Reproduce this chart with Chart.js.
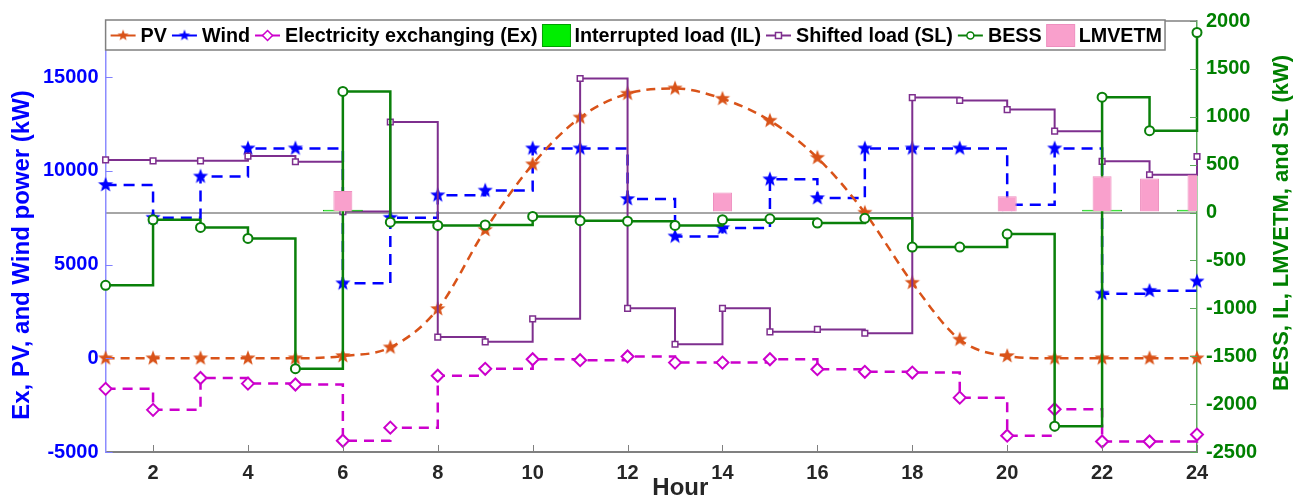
<!DOCTYPE html>
<html>
<head>
<meta charset="utf-8">
<script src="https://cdn.jsdelivr.net/npm/chart.js@4.4.0/dist/chart.umd.min.js"></script>
<style>
  html, body { margin: 0; padding: 0; background: #fff; }
</style>
</head>
<body>
<canvas id="myChart" width="1310" height="502"></canvas>
<script>
// hours on the x axis
const hours = [1, 2, 3, 4, 5, 6, 7, 8, 9, 10, 11, 12, 13, 14, 15, 16, 17, 18, 19, 20, 21, 22, 23, 24];
const xTicks = [2, 4, 6, 8, 10, 12, 14, 16, 18, 20, 22, 24];
const leftTicks = [-5000, 0, 5000, 10000, 15000];
const rightTicks = [-2500, -2000, -1500, -1000, -500, 0, 500, 1000, 1500, 2000];

// left axis series (kW)
const pv = [0, 0, 0, 0, 0, 120, 580, 2630, 6850, 10350, 12850, 14120, 14400, 13850, 12680, 10700, 7770, 4030, 1000, 120, 0, 0, 0, 0];
const wind = [9250, 7500, 9700, 11200, 11200, 4000, 7500, 8700, 8950, 11200, 11200, 8500, 6500, 6950, 9550, 8550, 11200, 11200, 11200, 8200, 11200, 3450, 3600, 4100];
const ex = [-1630, -2750, -1050, -1350, -1400, -4400, -3700, -930, -560, -50, -100, 100, -230, -230, -50, -580, -720, -760, -2100, -4130, -2720, -4440, -4440, -4070];

// right axis series (kW)
const il = [null, null, null, null, null, 30, null, null, null, null, null, null, null, null, null, null, null, null, null, null, null, 30, null, 30];
const sl = [550, 540, 540, 590, 530, 10, 945, -1300, -1350, -1110, 1400, -1000, -1375, -1000, -1245, -1220, -1260, 1200, 1170, 1075, 850, 535, 395, 585];
const bess = [-760, -75, -155, -270, -1630, 1265, -100, -135, -130, -40, -85, -90, -135, -75, -65, -110, -60, -360, -360, -225, -2230, 1205, 855, 1880];
const lmvetm = [null, null, null, null, null, 225, null, null, null, null, null, null, null, 210, null, null, null, null, null, 170, null, 380, 355, 395];

const FONT = '"Liberation Sans", Arial, sans-serif';

function pairs(values) {
    return hours.map((h, i) => ({x: h, y: values[i]}));
}

function makeStar(color, r) {
    const c = document.createElement('canvas');
    c.width = c.height = r * 2 + 2;
    const g = c.getContext('2d');
    g.translate(r + 1, r + 1);
    g.beginPath();
    for (let i = 0; i < 10; i++) {
        const rad = i % 2 === 0 ? r : r * 0.42;
        const a = -Math.PI / 2 + i * Math.PI / 5;
        g.lineTo(rad * Math.cos(a), rad * Math.sin(a));
    }
    g.closePath();
    g.fillStyle = color;
    g.fill();
    return c;
}

const orange = '#d95319', blue = '#0000ff', magenta = '#cc00cc', purple = '#7e2f8e', green = '#0a800a';

// little marker helper for the legend
function drawMarker(ctx, style, r, x, y, color, lw) {
    ctx.save();
    ctx.fillStyle = '#fff';
    ctx.strokeStyle = color;
    ctx.lineWidth = lw;
    ctx.beginPath();
    if (style === 'circle') {
        ctx.arc(x, y, r, 0, Math.PI * 2);
    } else if (style === 'rectRot') {
        ctx.moveTo(x, y - r); ctx.lineTo(x + r, y); ctx.lineTo(x, y + r); ctx.lineTo(x - r, y); ctx.closePath();
    } else {
        ctx.rect(x - r, y - r, r * 2, r * 2);
    }
    ctx.fill();
    ctx.stroke();
    ctx.restore();
}

const legendInside = {
    id: 'legendInside',
    afterDraw(chart) {
        const {ctx, chartArea: area} = chart;
        const top = area.top - 1, height = 30, cy = top + height / 2 + 0.5;
        ctx.save();
        ctx.font = 'bold 19.75px ' + FONT;
        let x = area.left + 5;
        const items = chart.data.datasets.map(ds => {
            const isBar = ds.type === 'bar';
            const sw = isBar ? 28 : 25;
            const it = {ds, isBar, sx: x, sw};
            x += sw + (isBar ? 4 : 5);
            it.tx = x;
            x += ctx.measureText(ds.label).width + 5;
            return it;
        });
        const right = x - 2;
        ctx.fillStyle = '#fff';
        ctx.fillRect(area.left, top, right - area.left, height);
        ctx.strokeStyle = '#808080';
        ctx.lineWidth = 1.5;
        ctx.strokeRect(area.left, top, right - area.left, height);

        items.forEach(it => {
            const ds = it.ds;
            if (it.isBar) {
                ctx.fillStyle = ds.backgroundColor;
                ctx.fillRect(it.sx, cy - 11, it.sw, 22);
                ctx.strokeStyle = ds.borderColor;
                ctx.lineWidth = 1;
                ctx.strokeRect(it.sx, cy - 11, it.sw, 22);
            } else {
                ctx.strokeStyle = ds.borderColor;
                ctx.lineWidth = 2;
                ctx.beginPath();
                ctx.moveTo(it.sx, cy);
                ctx.lineTo(it.sx + it.sw, cy);
                ctx.stroke();
                const mx = it.sx + it.sw / 2;
                if (ds.legendStar) {
                    ctx.drawImage(ds.legendStar, mx - ds.legendStar.width / 2, cy - ds.legendStar.height / 2);
                } else {
                    drawMarker(ctx, ds.pointStyle, ds.pointRadius - 1, mx, cy, ds.borderColor, 1.5);
                }
            }
            ctx.fillStyle = '#000';
            ctx.textBaseline = 'middle';
            ctx.textAlign = 'left';
            ctx.fillText(ds.label, it.tx, cy + 1);
        });
        ctx.restore();
    }
};

function rotatedText(ctx, text, x, y, font, color) {
    ctx.save();
    ctx.translate(x, y);
    ctx.rotate(-Math.PI / 2);
    ctx.font = font;
    ctx.fillStyle = color;
    ctx.textAlign = 'center';
    ctx.textBaseline = 'middle';
    ctx.fillText(text, 0, 0);
    ctx.restore();
}

// inward tick marks, frame top and the axis titles
const axisDecor = {
    id: 'axisDecor',
    afterDraw(chart) {
        const {ctx, chartArea: area, scales} = chart;
        ctx.save();
        ctx.lineWidth = 1;
        ctx.strokeStyle = '#8080ff';
        scales.y.ticks.forEach(t => {
            const py = Math.round(scales.y.getPixelForValue(t.value)) + 0.5;
            ctx.beginPath(); ctx.moveTo(area.left, py); ctx.lineTo(area.left + 7, py); ctx.stroke();
        });
        ctx.strokeStyle = '#5aa85a';
        scales.y1.ticks.forEach(t => {
            const py = Math.round(scales.y1.getPixelForValue(t.value)) + 0.5;
            ctx.beginPath(); ctx.moveTo(area.right - 7, py); ctx.lineTo(area.right, py); ctx.stroke();
        });
        ctx.strokeStyle = '#808080';
        scales.x.ticks.forEach(t => {
            const px = Math.round(scales.x.getPixelForValue(t.value)) + 0.5;
            ctx.beginPath(); ctx.moveTo(px, area.bottom); ctx.lineTo(px, area.bottom - 7); ctx.stroke();
        });
        ctx.lineWidth = 1.5;
        ctx.beginPath(); ctx.moveTo(area.left, area.top); ctx.lineTo(area.right, area.top); ctx.stroke();

        ctx.fillStyle = '#262626';
        ctx.font = 'bold 24px ' + FONT;
        ctx.textAlign = 'center';
        ctx.textBaseline = 'middle';
        ctx.fillText('Hour', (area.left + area.right) / 2 + 29, 488);

        rotatedText(ctx, 'Ex, PV, and Wind power (kW)', 22, 255, 'bold 24px ' + FONT, blue);
        rotatedText(ctx, 'BESS, IL, LMVETM, and SL (kW)', 1282, 223, 'bold 22px ' + FONT, '#008000');
        ctx.restore();
    }
};

const datasets = [
    {
        label: 'PV', data: pairs(pv), yAxisID: 'y', order: 5,
        borderColor: orange, borderWidth: 2.5, borderDash: [9, 6],
        cubicInterpolationMode: 'monotone', tension: 0.4,
        pointStyle: makeStar(orange, 8), legendStar: makeStar(orange, 6), pointRadius: 8, clip: false
    },
    {
        label: 'Wind', data: pairs(wind), yAxisID: 'y', order: 6,
        borderColor: blue, borderWidth: 2.5, borderDash: [11, 7], stepped: 'before',
        pointStyle: makeStar(blue, 8), legendStar: makeStar(blue, 6), pointRadius: 8, clip: false
    },
    {
        label: 'Electricity exchanging (Ex)', data: pairs(ex), yAxisID: 'y', order: 4,
        borderColor: magenta, borderWidth: 2.5, borderDash: [10, 7], stepped: 'before',
        pointStyle: 'rectRot', pointRadius: 6, pointBorderWidth: 2, pointBackgroundColor: '#fff', clip: false
    },
    {
        type: 'bar', label: 'Interrupted load (IL)', data: pairs(il), yAxisID: 'y1', order: 1,
        backgroundColor: '#00ee00', borderColor: '#00a000', borderWidth: 1,
        grouped: false, barPercentage: 0.84, categoryPercentage: 1
    },
    {
        label: 'Shifted load (SL)', data: pairs(sl), yAxisID: 'y1', order: 3,
        borderColor: purple, borderWidth: 2, stepped: 'before',
        pointStyle: 'rect', pointRadius: 4, pointBorderWidth: 1.5, pointBackgroundColor: '#fff', clip: false
    },
    {
        label: 'BESS', data: pairs(bess), yAxisID: 'y1', order: 2,
        borderColor: green, borderWidth: 2.5, stepped: 'before',
        pointStyle: 'circle', pointRadius: 4.5, pointBorderWidth: 2, pointBackgroundColor: '#fff', clip: false
    },
    {
        type: 'bar', label: 'LMVETM', data: pairs(lmvetm), yAxisID: 'y1', order: 0,
        backgroundColor: '#f9a0cc', borderColor: '#ee8fbf', borderWidth: 1,
        grouped: false, barPercentage: 0.4, categoryPercentage: 1
    }
];

const tickFont = {family: FONT, size: 20, weight: 'bold'};
const plainNumber = v => String(v);

const config = {
    type: 'line',
    data: {datasets},
    plugins: [axisDecor, legendInside],
    options: {
        responsive: false,
        animation: false,
        devicePixelRatio: 1,
        layout: {padding: {top: 17, left: 0, right: 0, bottom: 0}},
        plugins: {legend: {display: false}, tooltip: {enabled: false}},
        scales: {
            x: {
                type: 'linear', min: 1, max: 24, offset: false,
                afterBuildTicks: s => { s.ticks = xTicks.map(v => ({value: v})); },
                afterFit: s => { s.height = 50; },
                grid: {drawOnChartArea: false, drawTicks: false},
                border: {display: true, color: '#808080', width: 2},
                ticks: {color: '#262626', font: tickFont, padding: 9, maxRotation: 0, autoSkip: false, callback: plainNumber}
            },
            y: {
                position: 'left', min: -5000, max: 18000,
                afterBuildTicks: s => { s.ticks = leftTicks.map(v => ({value: v})); },
                afterFit: s => { s.width = 105.6; },
                grid: {drawOnChartArea: false, drawTicks: false},
                border: {display: true, color: '#8c8cff', width: 1.5},
                ticks: {color: blue, font: tickFont, padding: 7, callback: plainNumber}
            },
            y1: {
                position: 'right', min: -2500, max: 2000,
                afterBuildTicks: s => { s.ticks = rightTicks.map(v => ({value: v})); },
                afterFit: s => { s.width = 113; },
                grid: {
                    drawOnChartArea: true, drawTicks: false, lineWidth: 2,
                    color: c => (c.tick && c.tick.value === 0) ? '#a6a6a6' : 'rgba(0,0,0,0)'
                },
                border: {display: true, color: '#5aa85a', width: 1.5},
                ticks: {color: '#008000', font: tickFont, padding: 9, callback: plainNumber}
            }
        }
    }
};

const ctx = document.getElementById('myChart').getContext('2d');
new Chart(ctx, config);
</script>
</body>
</html>
